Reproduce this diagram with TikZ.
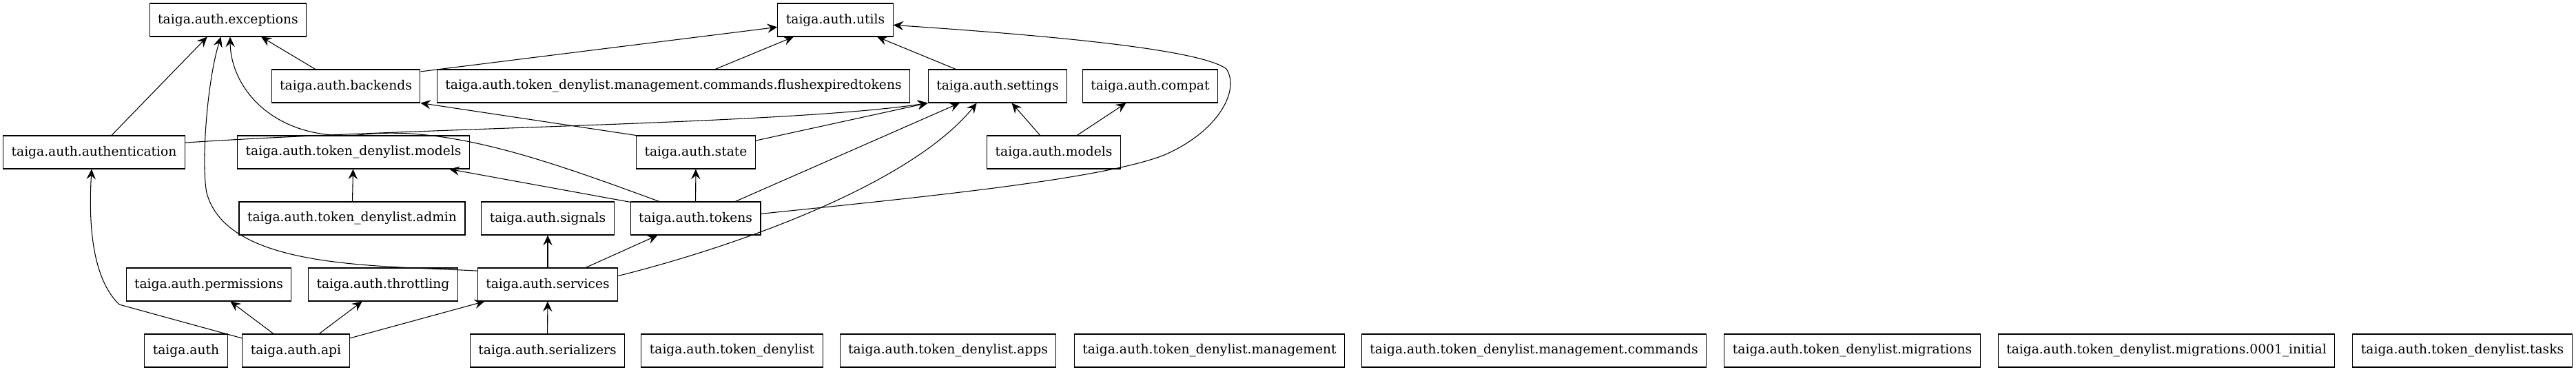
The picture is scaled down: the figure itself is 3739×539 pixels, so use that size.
\documentclass[tikz,border=0pt]{standalone}
\usepackage{fontspec}
\setmainfont{DejaVu Serif}
\usetikzlibrary{arrows.meta}

\begin{document}
\begin{tikzpicture}[x=0.75pt, y=-0.75pt,
    mod/.style = {draw, rectangle, line width=0.8pt, minimum height=36pt, inner xsep=9pt, font=\fontsize{14}{16}\selectfont},
    dep/.style = {-{Stealth[length=11pt, width=10pt, inset=4pt]}, line width=0.8pt}]
	\useasboundingbox (0,0) rectangle (3739,539);
	\node[mod] (exceptions) at (331,29) {taiga.auth.exceptions};
	\node[mod] (utils) at (1212.5,29) {taiga.auth.utils};
	\node[mod] (backends) at (502,125) {taiga.auth.backends};
	\node[mod] (flush) at (977.5,125) {taiga.auth.token\_denylist.management.commands.flushexpiredtokens};
	\node[mod] (settings) at (1448,125) {taiga.auth.settings};
	\node[mod] (compat) at (1669.5,125) {taiga.auth.compat};
	\node[mod] (authentication) at (136.5,221) {taiga.auth.authentication};
	\node[mod] (tdmodels) at (513,221) {taiga.auth.token\_denylist.models};
	\node[mod] (state) at (1010,221) {taiga.auth.state};
	\node[mod] (models) at (1529.5,221) {taiga.auth.models};
	\node[mod] (tdadmin) at (511,317) {taiga.auth.token\_denylist.admin};
	\node[mod] (signals) at (795,317) {taiga.auth.signals};
	\node[mod] (tokens) at (1009.5,317) {taiga.auth.tokens};
	\node[mod] (permissions) at (303,413) {taiga.auth.permissions};
	\node[mod] (throttling) at (556,413) {taiga.auth.throttling};
	\node[mod] (services) at (795,413) {taiga.auth.services};
	\node[mod] (auth) at (270,509) {taiga.auth};
	\node[mod] (api) at (429.5,509) {taiga.auth.api};
	\node[mod] (serializers) at (794.5,509) {taiga.auth.serializers};
	\node[mod] (td) at (1062.5,509) {taiga.auth.token\_denylist};
	\node[mod] (tdapps) at (1376,509) {taiga.auth.token\_denylist.apps};
	\node[mod] (tdmanagement) at (1755.5,509) {taiga.auth.token\_denylist.management};
	\node[mod] (tdcommands) at (2226.5,509) {taiga.auth.token\_denylist.management.commands};
	\node[mod] (tdmigrations) at (2688.5,509) {taiga.auth.token\_denylist.migrations};
	\node[mod] (tdinitial) at (3144.5,509) {taiga.auth.token\_denylist.migrations.0001\_initial};
	\node[mod] (tdtasks) at (3574,509) {taiga.auth.token\_denylist.tasks};

	\draw[dep] (backends.151) -- (exceptions.-27);
	\draw[dep] (backends.11) -- (utils.187);
	\draw[dep] (authentication.44) -- (exceptions.219);
	\draw[dep] (authentication.6) .. controls (600,185) and (1150,180) .. (settings.south west);
	\draw[dep] (flush.22) -- (utils.-158);
	\draw[dep] (settings.158) -- (utils.-22);
	\draw[dep] (state.north west) -- (backends.south east);
	\draw[dep] (state.11) -- (settings.south west);
	\draw[dep] (tokens.155) .. controls (800,235) and (650,180) .. (520,196) .. controls (400,205) and (335,130) .. (exceptions.-83);
	\draw[dep] (services.169) .. controls (540,385) and (330,390) .. (300,280) .. controls (292,240) and (300,120) .. (exceptions.-113);
	\draw[dep] (api.167) -- (173,442) .. controls (135,405) and (128,330) .. (authentication.-98);
	\draw[dep] (api.143) -- (permissions.-38);
	\draw[dep] (api.36) -- (throttling.-141);
	\draw[dep] (api.13) -- (services.-165);
	\draw[dep] (serializers) -- (services);
	\draw[dep] (services) -- (signals);
	\draw[dep] (services.24) -- (tokens.-156);
	\draw[dep] (services.7) .. controls (1060,360) and (1320,270) .. (settings.-141);
	\draw[dep] (tokens) -- (state);
	\draw[dep] (tokens.23) -- (settings.-156);
	\draw[dep] (tokens.166) -- (tdmodels.-10);
	\draw[dep] (tokens.4) .. controls (1350,285) and (1600,260) .. (1690,225) .. controls (1770,190) and (1800,130) .. (1780,100) .. controls (1740,70) and (1500,50) .. (utils.-5);
	\draw[dep] (tdadmin) -- (tdmodels);
	\draw[dep] (models.129) -- (settings.-50);
	\draw[dep] (models.36) -- (compat.-145);
\end{tikzpicture}
\end{document}
